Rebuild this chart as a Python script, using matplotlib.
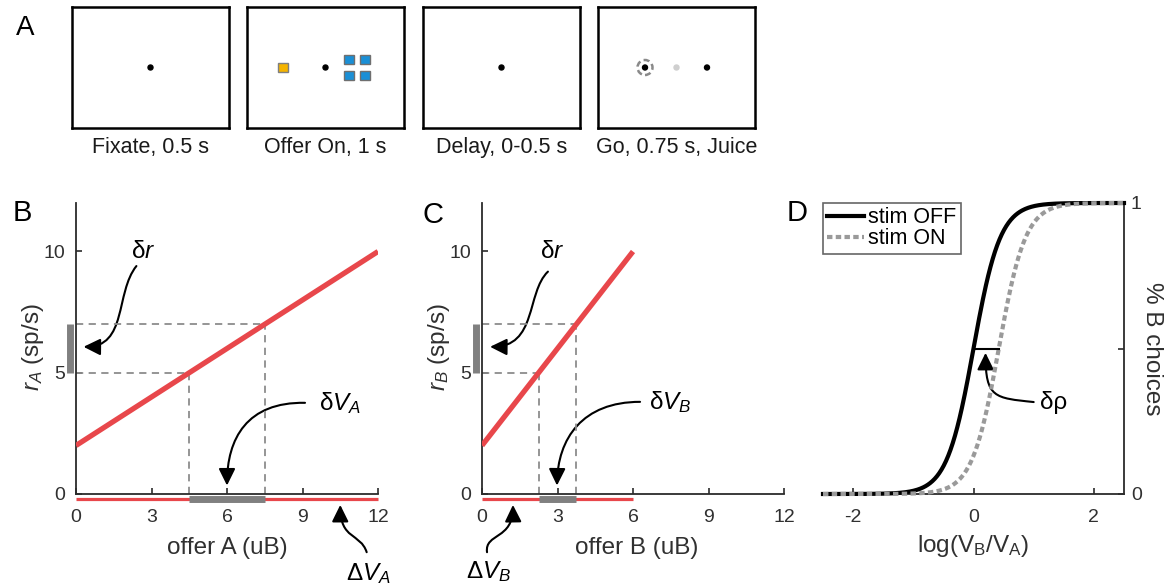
import numpy as np
import matplotlib
matplotlib.use("Agg")
import matplotlib.pyplot as plt
from matplotlib.patches import Rectangle, Circle, FancyArrowPatch
from matplotlib.path import Path

plt.rcParams['font.family'] = ['Liberation Sans', 'DejaVu Sans']
plt.rcParams['mathtext.fontset'] = 'custom'
plt.rcParams['mathtext.rm'] = 'Liberation Sans'
plt.rcParams['mathtext.it'] = 'Liberation Sans:italic'
plt.rcParams['mathtext.bf'] = 'Liberation Sans:bold'
plt.rcParams['axes.unicode_minus'] = False

# ---------------- data ----------------
task_labels = ["Fixate, 0.5 s", "Offer On, 1 s", "Delay, 0-0.5 s", "Go, 0.75 s, Juice"]

offer_A = [0, 12]
rate_A = [2, 10]
offer_B = [0, 6]
rate_B = [2, 10]
dr_range = [5, 7]
dVA_range = [4.5, 7.5]
dVB_range = [2.25, 3.75]
offer_ticks = [0, 3, 6, 9, 12]
rate_ticks = [0, 5, 10]

logv = np.linspace(-2.5, 2.5, 400)
sig_steepness = 4.5
stim_shift = 0.42
choice_ticks = [0, 0.5, 1]
choice_ticklabels = ['0', '', '1']
logv_ticks = [-2, 0, 2]

RED = '#E8474B'
GRAY = '#808080'
DASH = '#8c8c8c'
AX = '#2b2b2b'
TXT = '#303030'

W, H = 1175, 587
fig = plt.figure(figsize=(W / 100, H / 100), dpi=100)


def fpos(x0, x1, y0, y1):
    """pixel box -> figure fraction rect (y0 top, y1 bottom)"""
    return [x0 / W, (H - y1) / H, (x1 - x0) / W, (y1 - y0) / H]


# ---------------- panel A ----------------
box_lefts = [72, 247, 423, 598]
bw, bh = 157, 121
btop = 7
for i, bl in enumerate(box_lefts):
    ax = fig.add_axes(fpos(bl, bl + bw, btop, btop + bh))
    ax.set_xlim(-bw / 2, bw / 2)
    ax.set_ylim(-bh / 2, bh / 2)
    ax.set_xticks([])
    ax.set_yticks([])
    for s in ax.spines.values():
        s.set_linewidth(1.8)
        s.set_color('black')
    if i in (0, 1, 2):
        ax.add_patch(Circle((0, 0), 2.5, color='black'))
    if i == 1:
        ax.add_patch(Rectangle((-43 - 5, -4.5), 10, 9, facecolor='#F5B400',
                               edgecolor='#7f7f7f', lw=1))
        for cx in (23, 39):
            for cy in (-7.7, 7.7):
                ax.add_patch(Rectangle((cx - 5, cy - 4.5), 10, 9, facecolor='#1A8FD6',
                                       edgecolor='#6f6f6f', lw=1))
    if i == 3:
        ax.add_patch(Circle((-31.5, 0), 7.5, fill=False, edgecolor='#8a8a8a', lw=1.8,
                            linestyle=(0, (2.4, 1.4))))
        ax.add_patch(Circle((-31.5, 0), 2.5, color='black'))
        ax.add_patch(Circle((0, 0), 2.5, color='#cfcfcf'))
        ax.add_patch(Circle((30.5, 0), 2.5, color='black'))
    fig.text((bl + bw / 2) / W, (H - 147) / H, task_labels[i], ha='center', va='center',
             fontsize=15.5, color='#1a1a1a')

fig.text(25 / W, (H - 28) / H, 'A', fontsize=20, ha='center', va='center')
fig.text(22 / W, (H - 213) / H, 'B', fontsize=21, ha='center', va='center')
fig.text(433 / W, (H - 215) / H, 'C', fontsize=21, ha='center', va='center')
fig.text(797 / W, (H - 213) / H, 'D', fontsize=21, ha='center', va='center')


def style_axes(ax):
    for s in ['top', 'right']:
        ax.spines[s].set_visible(False)
    for s in ['left', 'bottom']:
        ax.spines[s].set_color(AX)
        ax.spines[s].set_linewidth(1.3)
    ax.tick_params(direction='in', length=4, width=1.2, color=AX, labelsize=14,
                   labelcolor=TXT)
    ax.tick_params(axis='x', pad=11)
    ax.tick_params(axis='y', pad=8)


def curved_arrow(ax, pts):
    path = Path(pts, [Path.MOVETO, Path.CURVE4, Path.CURVE4, Path.CURVE4])
    arr = FancyArrowPatch(path=path, arrowstyle='-|>,head_length=0.85,head_width=0.42',
                          mutation_scale=12, color='black', lw=1.5,
                          transform=ax.transData, clip_on=False)
    ax.add_patch(arr)


def rate_panel(ax, offers, rates, dv_range, xlabel, ylabel, sub, lab_cx,
               dr_txt, dr_path, dv_txt, dv_path, DV_txt, DV_path):
    style_axes(ax)
    ax.set_xlim(0, 12)
    ax.set_ylim(0, 12)
    ax.set_xticks(offer_ticks)
    ax.set_yticks(rate_ticks)
    ax.plot(offers, rates, color=RED, lw=3.8, solid_capstyle='butt', zorder=3)
    # dashed guides
    for yv, xv in zip(dr_range, dv_range):
        ax.plot([0, xv], [yv, yv], color=DASH, lw=1.3, ls=(0, (4, 3)), zorder=2)
        ax.plot([xv, xv], [0, yv], color=DASH, lw=1.3, ls=(0, (4, 3)), zorder=2)
    # range bars below axis / beside axis
    ax.plot([offers[0], offers[1]], [-0.22, -0.22], color=RED, lw=2.3,
            solid_capstyle='butt', clip_on=False, zorder=3)
    ax.plot(dv_range, [-0.22, -0.22], color=GRAY, lw=5, solid_capstyle='butt',
            clip_on=False, zorder=4)
    ax.plot([-0.25, -0.25], dr_range, color=GRAY, lw=5, solid_capstyle='butt',
            clip_on=False, zorder=4)
    # annotations
    ax.text(dr_txt[0], dr_txt[1], u'\u03b4$r$', fontsize=17.5, ha='center', va='center')
    curved_arrow(ax, dr_path)
    ax.text(dv_txt[0], dv_txt[1], u'\u03b4$V_{%s}$' % sub, fontsize=17.5, ha='center', va='center')
    curved_arrow(ax, dv_path)
    ax.text(DV_txt[0], DV_txt[1], u'\u0394$V_{%s}$' % sub, fontsize=17.5, ha='center', va='center')
    curved_arrow(ax, DV_path)
    ax.set_xlabel(xlabel, fontsize=17.5, color=TXT)
    ax.set_ylabel(ylabel, fontsize=17.5, color=TXT)
    ax.xaxis.label.set_va('center')
    ax.yaxis.label.set_va('center')
    ax.xaxis.set_label_coords(lab_cx, -0.186)
    ax.yaxis.set_label_coords(-0.143, 0.505)


# ---------------- panel B ----------------
axB = fig.add_axes(fpos(76, 378, 203, 494))
rate_panel(axB, offer_A, rate_A, dVA_range, 'offer A (uB)', '$r_A$ (sp/s)', 'A', 0.5,
           (2.66, 9.96), [(2.4, 9.4), (1.55, 8.3), (2.05, 6.05), (0.3, 6.07)],
           (10.5, 3.76), [(9.1, 3.76), (6.8, 3.8), (6.0, 2.3), (6.0, 0.35)],
           (11.6, -3.26), [(11.55, -2.4), (11.3, -1.6), (10.5, -1.9), (10.5, -0.45)])

# ---------------- panel C ----------------
axC = fig.add_axes(fpos(482, 784, 203, 494))
rate_panel(axC, offer_B, rate_B, dVB_range, 'offer B (uB)', '$r_B$ (sp/s)', 'B', 0.513,
           (2.78, 9.96), [(2.62, 9.17), (1.75, 8.3), (2.2, 6.05), (0.32, 6.07)],
           (7.47, 3.8), [(6.28, 3.8), (4.0, 3.8), (3.0, 2.3), (2.98, 0.35)],
           (0.25, -3.2), [(0.2, -2.4), (0.1, -1.6), (1.25, -1.9), (1.23, -0.45)])

# ---------------- panel D ----------------
axD = fig.add_axes(fpos(823, 1124, 203, 494))
for s in ['top', 'left']:
    axD.spines[s].set_visible(False)
for s in ['right', 'bottom']:
    axD.spines[s].set_color(AX)
    axD.spines[s].set_linewidth(1.3)
axD.yaxis.tick_right()
axD.yaxis.set_label_position('right')
axD.tick_params(direction='in', length=4, width=1.2, color=AX, labelsize=14,
                labelcolor=TXT)
axD.tick_params(axis='x', pad=11)
axD.tick_params(axis='y', pad=5)
axD.set_xlim(-2.5, 2.5)
axD.set_ylim(0, 1)
axD.set_xticks(logv_ticks)
axD.set_yticks(choice_ticks)
axD.set_yticklabels(choice_ticklabels)

p_off = 1.0 / (1.0 + np.exp(-sig_steepness * logv))
p_on = 1.0 / (1.0 + np.exp(-sig_steepness * (logv - stim_shift)))
axD.plot(logv, p_off, color='black', lw=3, label='stim OFF', clip_on=False, zorder=3)
axD.plot(logv, p_on, color='#9a9a9a', lw=3, ls=(0, (1.3, 0.8)), label='stim ON',
         clip_on=False, zorder=4)
axD.plot([0, stim_shift], [0.5, 0.5], color='black', lw=1.5, zorder=5)
axD.text(1.33, 0.316, u'\u03b4\u03c1', fontsize=17.5, ha='center', va='center')
curved_arrow(axD, [(1.0, 0.316), (0.35, 0.33), (0.2, 0.33), (0.2, 0.485)])

leg = axD.legend(loc='upper left', bbox_to_anchor=(0.0, 1.0), borderaxespad=0,
                 fontsize=15.5, frameon=True, fancybox=False, handlelength=1.7,
                 handletextpad=0.2, labelspacing=0.0, borderpad=0.2)
leg.get_frame().set_edgecolor('#404040')
leg.get_frame().set_linewidth(1.2)

axD.set_xlabel('log(V$_{\\mathrm{B}}$/V$_{\\mathrm{A}}$)', fontsize=17.5, color=TXT)
axD.set_ylabel('% B choices', fontsize=17.5, color=TXT, rotation=270)
axD.xaxis.label.set_va('center')
axD.yaxis.label.set_va('center')
axD.yaxis.label.set_ha('center')
axD.xaxis.set_label_coords(0.5, -0.18)
axD.yaxis.set_label_coords(1.093, 0.5)

fig.savefig('out.png', dpi=100)
